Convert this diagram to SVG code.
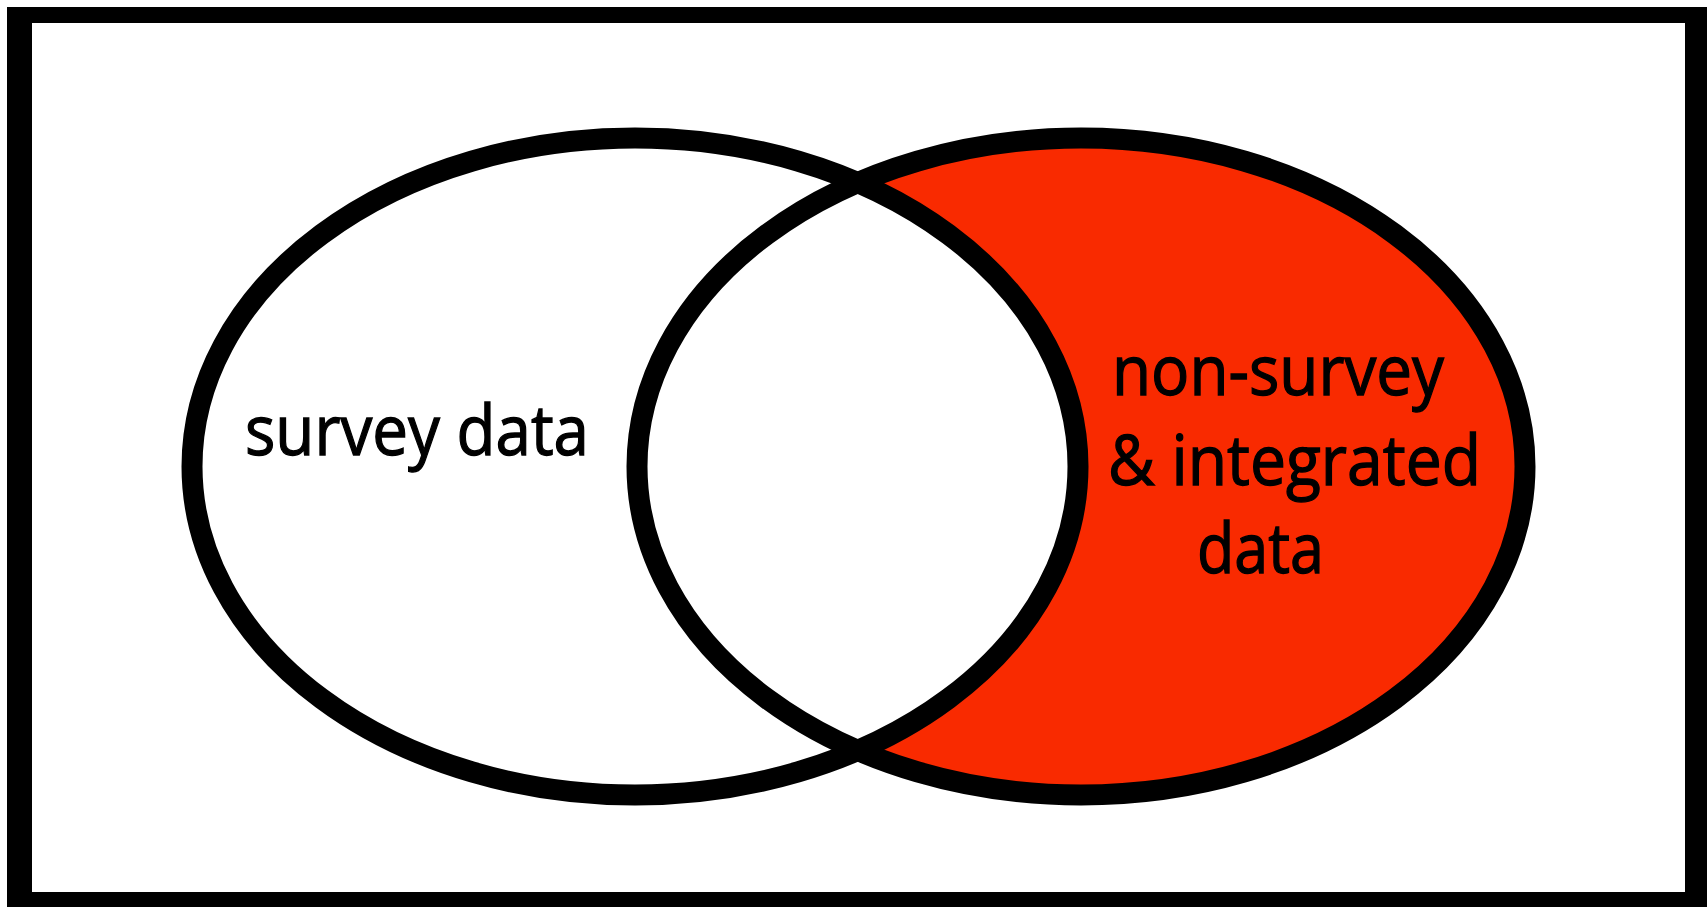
<svg xmlns="http://www.w3.org/2000/svg" width="1707" height="907" viewBox="0 0 1707 907">
  <style>
    .outline { fill: none; stroke: #000; stroke-width: 21; }
    .label { font-family: "Open Sans", Lato, "Liberation Sans", sans-serif; font-size: 69px; fill: #000; stroke: #000; stroke-width: 1.3; }
  </style>
  <rect x="0" y="0" width="1707" height="907" fill="#fff"/>
  <g id="frame">
    <rect x="7" y="7" width="1700" height="900" fill="#000"/>
    <rect x="32" y="23" width="1653" height="869" fill="#fff"/>
  </g>
  <g id="non-survey">
    <ellipse cx="1081" cy="466.5" rx="444" ry="328.5" fill="#F92A00"/>
  </g>
  <g id="survey">
    <ellipse cx="635" cy="466.5" rx="443" ry="328.5" fill="#fff"/>
  </g>
  <g id="outlines">
    <ellipse class="outline" cx="1081" cy="466.5" rx="444" ry="328.5"/>
    <ellipse class="outline" cx="635" cy="466.5" rx="443" ry="328.5"/>
  </g>
  <g id="labels">
    <text class="label" x="245" y="455" textLength="344" lengthAdjust="spacingAndGlyphs">survey data</text>
    <text class="label" x="1112" y="395" textLength="332" lengthAdjust="spacingAndGlyphs">non-survey</text>
    <text class="label" x="1108" y="485" textLength="373" lengthAdjust="spacingAndGlyphs">&amp; integrated</text>
    <text class="label" x="1197" y="573" textLength="127" lengthAdjust="spacingAndGlyphs">data</text>
  </g>
</svg>
